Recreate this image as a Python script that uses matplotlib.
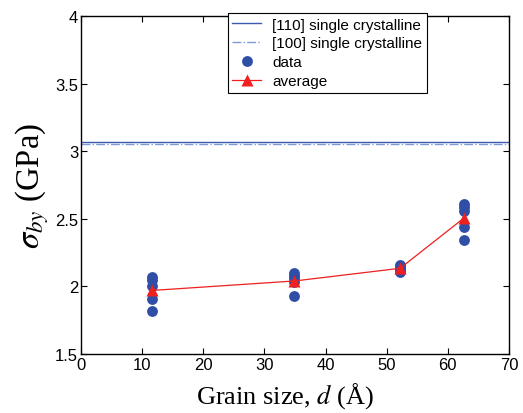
import matplotlib
matplotlib.use("Agg")
import matplotlib.pyplot as plt
import numpy as np

# Grain sizes (Å) and per-sample yield stress (GPa)
grain_size = [11.6, 34.9, 52.2, 62.7]
stress_samples = [
    [2.07, 2.05, 2.00, 1.91, 1.82],
    [2.10, 2.08, 2.06, 2.03, 1.93],
    [2.16, 2.15, 2.13, 2.12, 2.11],
    [2.61, 2.59, 2.56, 2.44, 2.34],
]
single_110 = 3.07
single_100 = 3.055

plt.rcParams["font.family"] = ["Liberation Sans", "DejaVu Sans"]
plt.rcParams["mathtext.fontset"] = "stix"

fig = plt.figure(figsize=(5.23, 4.14), dpi=100)
ax = fig.add_axes([0.1549, 0.1425, 0.8183, 0.8165])

ax.axhline(single_110, color="#3a5bb0", lw=1.0, label="[110] single crystalline")
ax.axhline(single_100, color="#7f9ad6", lw=1.0, ls="-.", label="[100] single crystalline")

xs = np.repeat(grain_size, [len(s) for s in stress_samples])
ys = np.concatenate(stress_samples)
ax.plot(xs, ys, "o", color="#2f4fa6", ms=7.8, mec="none", label="data")

avg = [np.mean(s) for s in stress_samples]
ax.plot(grain_size, avg, "-^", color="#ee2020", lw=0.9, ms=9, mec="none", label="average")

ax.set_xlim(0, 70)
ax.set_ylim(1.5, 4)
ax.set_xticks(np.arange(0, 71, 10))
ax.set_yticks([1.5, 2, 2.5, 3, 3.5, 4])
ax.set_yticklabels(["1.5", "2", "2.5", "3", "3.5", "4"])
ax.tick_params(direction="in", length=4, width=0.8, top=True, right=True,
               labelsize=12, pad=2)
for sp in ax.spines.values():
    sp.set_linewidth(1.0)

ax.set_xlabel("Grain size, $d$ (Å)", family="Liberation Serif", fontsize=19)
ax.xaxis.set_label_coords(0.477, -0.077, transform=ax.transAxes)
ax.set_ylabel(r"$\sigma_{by}$ (GPa)", family="Liberation Serif", fontsize=23.5)
ax.yaxis.set_label_coords(-0.07, 0.5, transform=ax.transAxes)

leg = ax.legend(loc="upper center", bbox_to_anchor=(0.575, 1.009), fontsize=11,
                frameon=True, fancybox=False, edgecolor="black", framealpha=1,
                handlelength=1.9, borderpad=0.3, labelspacing=0.32,
                handletextpad=0.7, borderaxespad=0)
leg.get_frame().set_linewidth(0.8)

fig.savefig("out.png", dpi=100)
